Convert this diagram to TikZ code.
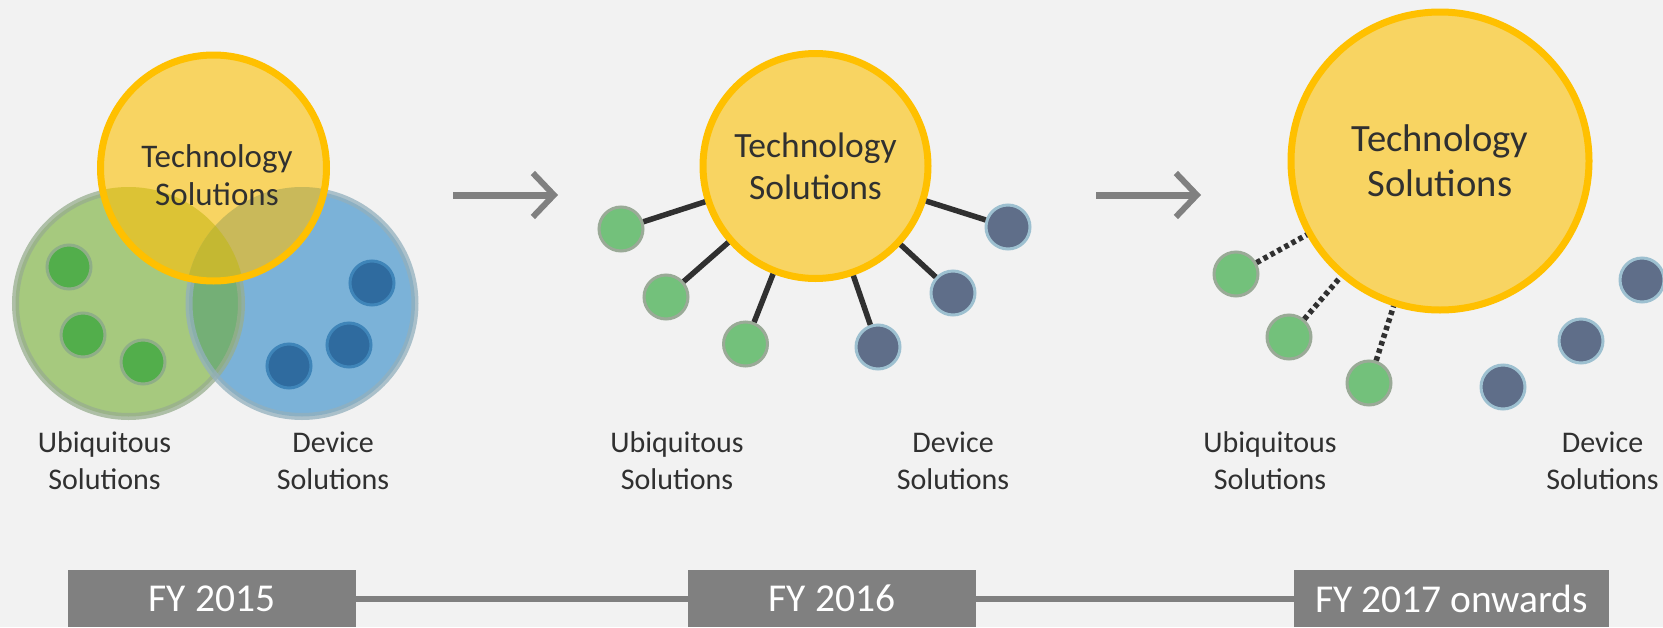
\documentclass[tikz,border=0pt]{standalone}
\usepackage{fontspec}
\setmainfont{Carlito}
\usetikzlibrary{arrows.meta}

\definecolor{bgc}{HTML}{F2F2F2}
\definecolor{techfill}{HTML}{F8D462}
\definecolor{techline}{HTML}{FFC000}
\definecolor{ubifill}{HTML}{A6C97E}
\definecolor{ubiline}{HTML}{98AE8F}
\definecolor{devfill}{HTML}{7BB2D8}
\definecolor{devline}{HTML}{93B0BD}
\definecolor{ubidev}{HTML}{74AF76}
\definecolor{techubi}{HTML}{DCC335}
\definecolor{techdev}{HTML}{C9B95A}
\definecolor{techall}{HTML}{C4B832}
\definecolor{udotfill}{HTML}{52AE4B}
\definecolor{udotline}{HTML}{8FAE87}
\definecolor{ddotfill}{HTML}{2F6B9F}
\definecolor{ddotline}{HTML}{3F85B9}
\definecolor{gdotfill}{HTML}{73C17B}
\definecolor{gdotline}{HTML}{9AAA97}
\definecolor{bdotfill}{HTML}{5F6E89}
\definecolor{bdotline}{HTML}{9DC0D0}
\definecolor{txt}{HTML}{303030}
\definecolor{greyc}{HTML}{808080}

\tikzset{
  dot/.style={circle, minimum size=44pt, inner sep=0pt, line width=3pt},
  udot/.style={dot, draw=udotline, fill=udotfill},
  ddot/.style={dot, draw=ddotline, fill=ddotfill},
  gdot/.style={dot, draw=gdotline, fill=gdotfill},
  bdot/.style={dot, draw=bdotline, fill=bdotfill},
  hub/.style={circle, inner sep=0pt, line width=7pt, draw=techline, fill=techfill, text=txt, align=center},
  lbl/.style={text=txt, align=center, font=\fontsize{30}{37}\selectfont},
  spoke/.style={line width=5.5pt, draw=txt},
  dotline/.style={line width=5.5pt, draw=txt, dash pattern=on 4.5pt off 3.5pt},
  step arrow/.style={line width=7pt, draw=greyc, -{Straight Barb[length=21pt, width=44pt, line width=6pt]}},
  yearbox/.style={rectangle, fill=greyc, text=white, minimum height=57pt, inner sep=0pt, font=\fontsize{39.5}{44}\selectfont},
  yearline/.style={line width=6pt, draw=greyc}
}

\begin{document}
\begin{tikzpicture}[x=1pt, y=-1pt]
        \fill[bgc] (0,0) rectangle (1663,627);
        \useasboundingbox (0,0) rectangle (1663,627);

        % FY 2015: overlapping circles
        \coordinate (ubi) at (128.5,303.5);
        \coordinate (dev) at (302,303.5);
        \coordinate (tec) at (213.5,168);
        \fill[ubifill] (ubi) circle (113pt);
        \fill[devfill] (dev) circle (113pt);
        \begin{scope}
          \clip (ubi) circle (113pt);
          \fill[ubidev] (dev) circle (113pt);
        \end{scope}
        \draw[ubiline, line width=7pt, draw opacity=.75] (ubi) circle (113pt);
        \draw[devline, line width=7pt, draw opacity=.75] (dev) circle (113pt);
        \fill[techfill] (tec) circle (113pt);
        \begin{scope}
          \clip (ubi) circle (116.5pt);
          \fill[techubi] (tec) circle (113pt);
        \end{scope}
        \begin{scope}
          \clip (dev) circle (116.5pt);
          \fill[techdev] (tec) circle (113pt);
          \clip (ubi) circle (116.5pt);
          \fill[techall] (tec) circle (113pt);
        \end{scope}
        \draw[techline, line width=7pt] (tec) circle (113pt);
        \node[udot] (lu1) at (69,267) {};
        \node[udot] (lu2) at (83,335) {};
        \node[udot] (lu3) at (143,362) {};
        \node[ddot] (ld1) at (372,283) {};
        \node[ddot] (ld2) at (349,345) {};
        \node[ddot] (ld3) at (289,366) {};
        \node[text=txt, align=center, font=\fontsize{33}{38}\selectfont] (tech1) at (217,175) {Technology\\Solutions};
        \node[lbl] (ubi1) at (104.5,461) {Ubiquitous\\Solutions};
        \node[lbl] (dev1) at (333,461) {Device\\Solutions};

        % FY 2016: hub with spokes
        \node[hub, minimum size=225pt, font=\fontsize{35.5}{42}\selectfont] (tech2) at (815.5,166) {Technology\\Solutions};
        \node[gdot] (mu1) at (621,229) {};
        \node[gdot] (mu2) at (666,297) {};
        \node[gdot] (mu3) at (745.5,344) {};
        \node[bdot] (md1) at (878,347) {};
        \node[bdot] (md2) at (953,293) {};
        \node[bdot] (md3) at (1008,227) {};
        \draw[spoke] (mu1) -- (tech2);
        \draw[spoke] (mu2) -- (tech2);
        \draw[spoke] (mu3) -- (tech2);
        \draw[spoke] (md1) -- (tech2);
        \draw[spoke] (md2) -- (tech2);
        \draw[spoke] (md3) -- (tech2);
        \node[lbl] (ubi2) at (677,461) {Ubiquitous\\Solutions};
        \node[lbl] (dev2) at (953,461) {Device\\Solutions};

        % FY 2017 onwards: loose links
        \node[hub, minimum size=298pt, font=\fontsize{38.6}{45}\selectfont] (tech3) at (1440,161) {Technology\\Solutions};
        \node[gdot] (ru1) at (1236,274) {};
        \node[gdot] (ru2) at (1289,337) {};
        \node[gdot] (ru3) at (1369,383) {};
        \node[bdot] (rd1) at (1503,387) {};
        \node[bdot] (rd2) at (1581,341) {};
        \node[bdot] (rd3) at (1642,280) {};
        \draw[dotline] (ru1) -- (tech3);
        \draw[dotline] (ru2) -- (tech3);
        \draw[dotline] (ru3) -- (tech3);
        \node[lbl] (ubi3) at (1270,461) {Ubiquitous\\Solutions};
        \node[lbl] (dev3) at (1602.5,461) {Device\\Solutions};

        % Arrows between stages
        \coordinate (a1s) at (453,195);
        \coordinate (a1e) at (558,195);
        \coordinate (a2s) at (1096,195);
        \coordinate (a2e) at (1201,195);
        \draw[step arrow] (a1s) -- (a1e);
        \draw[step arrow] (a2s) -- (a2e);

        % Timeline
        \node[yearbox, minimum width=288pt] (fy15) at (212,598.5) {FY 2015};
        \node[yearbox, minimum width=288pt] (fy16) at (832,598.5) {FY 2016};
        \node[yearbox, minimum width=315pt] (fy17) at (1451.5,598.5) {FY 2017 onwards};
        \draw[yearline] (fy15) -- (fy16);
        \draw[yearline] (fy16) -- (fy17);
\end{tikzpicture}
\end{document}
